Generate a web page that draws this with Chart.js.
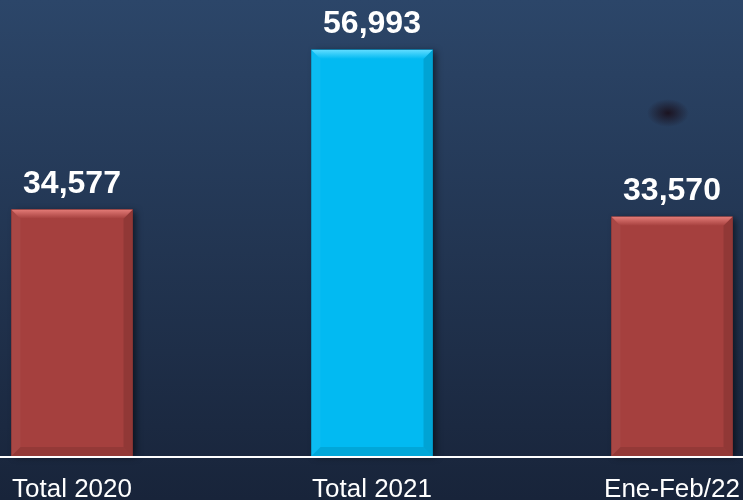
<!DOCTYPE html>
<html>
<head>
<meta charset="utf-8">
<script src="https://cdn.jsdelivr.net/npm/chart.js@4"></script>
<style>
  html, body { margin: 0; padding: 0; background: #1f2f48; }
  #wrap { width: 743px; height: 500px; position: relative; }
</style>
</head>
<body>
<div id="wrap"><canvas id="chart"></canvas></div>
<script>
// data
const categories = ['Total 2020', 'Total 2021', 'Ene-Feb/22'];
const totals = [34577, 56993, 33570];
const barColors = ['#a5403e', '#02baf2', '#a5403e'];
const bevelLight = ['#e27a76', '#5fdcff', '#e27a76'];

const fmt = v => v.toLocaleString('en-US');

// gradient backdrop + the dark smudge top right
const backdrop = {
  id: 'backdrop',
  beforeDraw(chart) {
    const {ctx, width, height} = chart;
    ctx.save();
    const g = ctx.createLinearGradient(0, 0, 0, height);
    g.addColorStop(0, '#2c4669');
    g.addColorStop(1, '#18243a');
    ctx.fillStyle = g;
    ctx.fillRect(0, 0, width, height);
    ctx.translate(668, 113);
    ctx.scale(1.5, 1);
    const r = ctx.createRadialGradient(0, 0, 0, 0, 0, 14);
    r.addColorStop(0, 'rgba(25,12,22,0.85)');
    r.addColorStop(1, 'rgba(25,12,22,0)');
    ctx.fillStyle = r;
    ctx.beginPath();
    ctx.arc(0, 0, 14, 0, Math.PI * 2);
    ctx.fill();
    ctx.restore();
  }
};

// shadow behind bars, bevel on top, baseline and value labels
const bevel = {
  id: 'bevel',
  beforeDatasetsDraw(chart) {
    const {ctx} = chart;
    ctx.save();
    chart.getDatasetMeta(0).data.forEach(bar => {
      const l = bar.x - bar.width / 2, t = bar.y;
      ctx.shadowColor = 'rgba(0,0,0,0.55)';
      ctx.shadowBlur = 7;
      ctx.shadowOffsetX = 3;
      ctx.shadowOffsetY = 1;
      ctx.fillStyle = '#000';
      ctx.fillRect(l, t, bar.width, bar.base - t);
    });
    ctx.restore();
  },
  afterDatasetsDraw(chart) {
    const {ctx} = chart;
    const meta = chart.getDatasetMeta(0);
    const b = 9;
    ctx.save();
    meta.data.forEach((bar, i) => {
      const l = bar.x - bar.width / 2, r = bar.x + bar.width / 2;
      const t = bar.y, btm = bar.base;
      const poly = (pts, fill) => {
        ctx.beginPath();
        ctx.moveTo(pts[0][0], pts[0][1]);
        pts.slice(1).forEach(p => ctx.lineTo(p[0], p[1]));
        ctx.closePath();
        ctx.fillStyle = fill;
        ctx.fill();
      };
      const tg = ctx.createLinearGradient(0, t, 0, t + b);
      tg.addColorStop(0, bevelLight[i]);
      tg.addColorStop(1, barColors[i]);
      poly([[l, t], [r, t], [r - b, t + b], [l + b, t + b]], tg);
      poly([[l, t], [l + b, t + b], [l + b, btm - b], [l, btm]], 'rgba(255,255,255,0.04)');
      poly([[r, t], [r, btm], [r - b, btm - b], [r - b, t + b]], 'rgba(0,0,0,0.12)');
      poly([[l, btm], [l + b, btm - b], [r - b, btm - b], [r, btm]], 'rgba(0,0,0,0.1)');
    });

    // baseline across the whole width
    const y0 = chart.scales.y.getPixelForValue(0);
    ctx.strokeStyle = '#ffffff';
    ctx.lineWidth = 2;
    ctx.beginPath();
    ctx.moveTo(0, y0 + 1);
    ctx.lineTo(chart.width, y0 + 1);
    ctx.stroke();

    ctx.fillStyle = '#ffffff';
    ctx.font = 'bold 32px "Liberation Sans", Arial, sans-serif';
    ctx.textAlign = 'center';
    ctx.textBaseline = 'alphabetic';
    meta.data.forEach((bar, i) => {
      ctx.fillText(fmt(totals[i]), bar.x, bar.y - 17);
    });
    ctx.restore();
  }
};

new Chart(document.getElementById('chart'), {
  type: 'bar',
  data: {
    labels: categories,
    datasets: [{
      data: totals,
      backgroundColor: barColors,
      borderWidth: 0,
      barThickness: 121,
      clip: false,
    }],
  },
  options: {
    responsive: true,
    maintainAspectRatio: false,
    animation: false,
    layout: {padding: {left: 72, right: 71, top: 0, bottom: 0}},
    plugins: {
      legend: {display: false},
      tooltip: {enabled: false},
    },
    scales: {
      x: {
        offset: false,
        grid: {display: false, drawTicks: false},
        border: {display: false},
        ticks: {
          color: '#ffffff',
          padding: 18,
          maxRotation: 0,
          autoSkip: false,
          font: {family: '"Liberation Sans", Arial, sans-serif', size: 26},
        },
        afterFit(axis) {
          axis.height = 44;
          axis.paddingLeft = 0;
          axis.paddingRight = 0;
        },
      },
      y: {
        display: false,
        min: 0,
        max: 64000,
      },
    },
  },
  plugins: [backdrop, bevel],
});
</script>
</body>
</html>
